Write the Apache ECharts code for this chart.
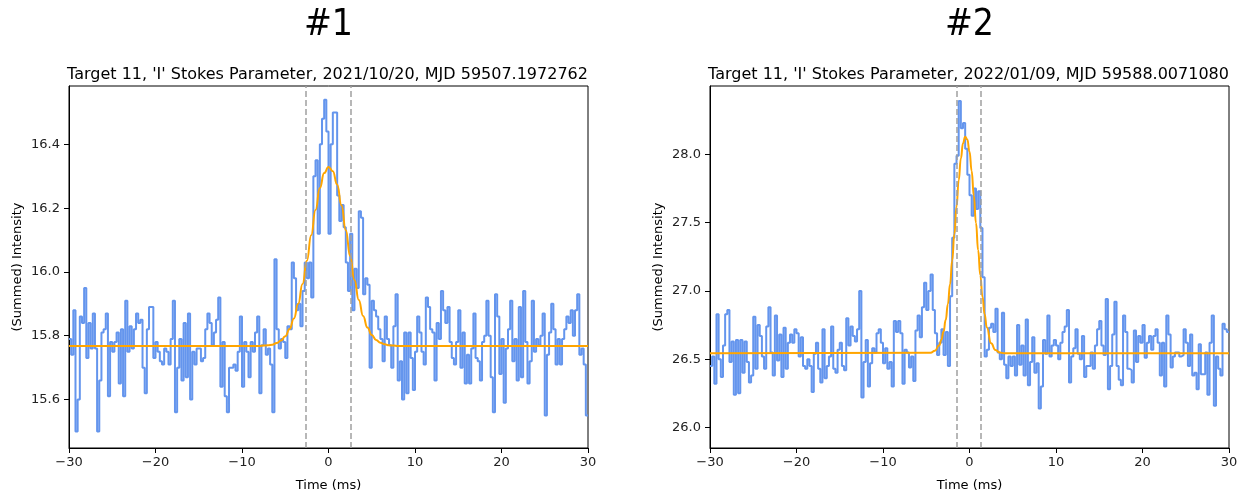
<!DOCTYPE html>
<html>
<head>
<meta charset="utf-8">
<script src="https://cdn.jsdelivr.net/npm/echarts@6/dist/echarts.min.js"></script>
<style>
  html, body { margin: 0; padding: 0; background: #fff; }
  #main { width: 1245px; height: 497px; }
</style>
</head>
<body>
<div id="main"></div>
<script>
var chart = echarts.init(document.getElementById('main'));

// time bins (ms)
var T0 = -30, BIN = 0.25, T_END = 30;

// panel #1, summed intensity per bin
var p1Intensity = [
  15.79,15.74,15.88,15.50,15.60,15.86,15.84,15.95,15.73,15.84,
  15.76,15.87,15.76,15.50,15.66,15.81,15.82,15.87,15.61,15.78,
  15.75,15.78,15.81,15.65,15.82,15.61,15.91,15.75,15.83,15.76,
  15.82,15.87,15.84,15.85,15.70,15.62,15.82,15.89,15.89,15.73,
  15.78,15.75,15.72,15.71,15.76,15.75,15.71,15.79,15.91,15.56,
  15.70,15.79,15.66,15.84,15.67,15.87,15.60,15.75,15.71,15.76,
  15.76,15.72,15.73,15.82,15.87,15.84,15.77,15.81,15.85,15.92,
  15.64,15.78,15.61,15.56,15.70,15.70,15.71,15.69,15.75,15.86,
  15.64,15.78,15.75,15.67,15.78,15.75,15.81,15.86,15.62,15.77,
  15.82,15.74,15.76,15.71,15.56,16.04,15.82,15.76,15.79,15.78,
  15.73,15.83,15.82,16.03,15.98,15.88,15.90,15.83,15.94,16.03,
  15.98,16.03,15.92,16.30,16.35,16.12,16.40,16.48,16.54,16.44,
  16.12,16.40,16.50,16.50,16.24,16.16,16.21,16.14,16.03,15.94,
  16.12,15.88,16.01,15.95,16.19,16.17,15.93,15.98,15.96,15.70,
  15.91,15.88,15.86,15.82,15.79,15.72,15.86,15.79,15.77,15.70,
  15.83,15.93,15.66,15.72,15.60,15.81,15.62,15.81,15.73,15.63,
  15.75,15.86,15.81,15.75,15.71,15.92,15.89,15.82,15.81,15.66,
  15.84,15.79,15.94,15.88,15.84,15.89,15.78,15.73,15.71,15.78,
  15.88,15.70,15.81,15.65,15.74,15.65,15.76,15.87,15.73,15.72,
  15.66,15.78,15.80,15.91,15.80,15.67,15.56,15.93,15.86,15.68,
  15.79,15.59,15.76,15.82,15.91,15.72,15.79,15.66,15.89,15.67,
  15.94,15.78,15.65,15.72,15.91,15.75,15.79,15.77,15.80,15.87,
  15.55,15.74,15.81,15.90,15.82,15.71,15.79,15.71,15.79,15.82,
  15.86,15.84,15.88,15.80,15.88,15.93,15.74,15.76,15.71,15.55
];

// panel #2, summed intensity per bin
var p2Intensity = [
  26.45,26.52,26.32,26.83,26.50,26.37,26.60,26.83,26.86,26.48,
  26.63,26.24,26.64,26.25,26.64,26.40,26.63,26.48,26.33,26.38,
  26.81,26.43,26.75,26.67,26.52,26.43,26.74,26.88,26.55,26.38,
  26.82,26.49,26.68,26.37,26.73,26.43,26.62,26.68,26.62,26.72,
  26.69,26.52,26.66,26.45,26.43,26.50,26.45,26.26,26.54,26.62,
  26.43,26.33,26.72,26.36,26.45,26.52,26.74,26.43,26.40,26.57,
  26.62,26.45,26.42,26.80,26.60,26.74,26.67,26.63,26.72,27.00,
  26.22,26.48,26.64,26.30,26.47,26.58,26.55,26.69,26.72,26.62,
  26.47,26.58,26.43,26.48,26.30,26.78,26.70,26.78,26.69,26.32,
  26.57,26.55,26.44,26.52,26.34,26.71,26.82,26.66,26.88,27.06,
  26.86,27.00,27.12,26.86,26.69,26.53,26.62,26.72,26.53,26.70,
  26.45,26.96,27.39,27.93,27.99,28.39,28.19,28.23,28.04,27.85,
  27.70,27.55,27.75,27.60,27.73,27.46,27.10,26.52,26.57,26.73,
  26.76,26.70,26.87,26.55,26.50,26.84,26.46,26.36,26.52,26.45,
  26.52,26.38,26.75,26.46,26.60,26.38,26.79,26.31,26.48,26.66,
  26.40,26.47,26.14,26.30,26.64,26.54,26.82,26.52,26.60,26.64,
  26.60,26.50,26.62,26.70,26.74,26.86,26.33,26.52,26.58,26.72,
  26.54,26.50,26.67,26.37,26.45,26.45,26.55,26.43,26.60,26.72,
  26.78,26.60,26.53,26.94,26.28,26.45,26.68,26.92,26.45,26.35,
  26.31,26.82,26.70,26.43,26.42,26.33,26.71,26.48,26.67,26.62,
  26.75,26.51,26.62,26.67,26.57,26.67,26.72,26.62,26.38,26.62,
  26.30,26.82,26.68,26.44,26.52,26.55,26.55,26.52,26.53,26.72,
  26.62,26.45,26.68,26.38,26.40,26.28,26.61,26.39,26.39,26.55,
  26.24,26.62,26.82,26.16,26.52,26.43,26.38,26.76,26.72,26.70
];

// gaussian fit curves
var p1FitT = [-30,-8,-7.5,-7,-6.5,-6,-5.5,-5,-4.5,-4,-3.5,-3,-2.5,-2,-1.5,-1,-0.5,0,
              0.5,1,1.5,2,2.5,3,3.5,4,4.5,5,5.5,6,6.5,7,7.5,8,30];
var p1FitV = [15.768,15.768,15.769,15.770,15.772,15.777,15.785,15.798,15.821,15.854,15.900,15.962,
              16.035,16.115,16.194,16.263,16.310,16.329,16.316,16.274,16.209,16.131,16.050,15.975,
              15.912,15.862,15.826,15.802,15.787,15.778,15.773,15.770,15.769,15.768,15.768];

var p2FitT = [-30,-4.5,-4,-3.5,-3.25,-3,-2.75,-2.5,-2.25,-2,-1.75,-1.5,-1.25,-1,-0.75,-0.5,-0.25,0,
              0.25,0.5,0.75,1,1.25,1.5,1.75,2,2.5,3,3.5,4,30];
var p2FitV = [26.543,26.548,26.562,26.602,26.643,26.702,26.788,26.902,27.048,27.222,27.416,27.617,
              27.809,27.970,28.081,28.128,28.108,28.020,27.878,27.697,27.497,27.298,27.115,26.957,
              26.830,26.733,26.616,26.567,26.549,26.544,26.543];

// dashed markers (ms)
var p1Marks = [-2.6, 2.6];
var p2Marks = [-1.45, 1.3];

// axis ticks
var xTicks = [-30, -20, -10, 0, 10, 20, 30];
var p1YTicks = [15.6, 15.8, 16.0, 16.2, 16.4];
var p2YTicks = [26.0, 26.5, 27.0, 27.5, 28.0];

var titles = ['#1', '#2'];
var subtitles = [
  "Target 11, 'I' Stokes Parameter, 2021/10/20, MJD 59507.1972762",
  "Target 11, 'I' Stokes Parameter, 2022/01/09, MJD 59588.0071080"
];

function toSteps(vals) {
  var out = [];
  for (var i = 0; i < vals.length; i++) {
    out.push([T0 + i * BIN, vals[i]]);
  }
  out.push([T_END, vals[vals.length - 1]]);
  return out;
}
function zip(a, b) {
  return a.map(function (t, i) { return [t, b[i]]; });
}

var FONT = "'DejaVu Sans', sans-serif";
var gridW = 519, gridH = 367, gridTop = 86;
var lefts = [69, 710];

function xAxisFor(idx) {
  return {
    type: 'value', gridIndex: idx, min: -30, max: 30, interval: 10,
    name: 'Time (ms)', nameLocation: 'middle', nameGap: 31,
    nameTextStyle: { color: '#000', fontSize: 13, fontFamily: FONT },
    axisLine: { onZero: false, lineStyle: { color: '#000', width: 1 } },
    axisTick: { length: 5, customValues: xTicks, lineStyle: { color: '#000' } },
    axisLabel: {
      color: '#222', fontSize: 13, fontFamily: FONT, margin: 8, customValues: xTicks,
      formatter: function (v) { return v < 0 ? '\u2212' + (-v) : String(v); }
    },
    splitLine: { show: false }
  };
}
function yAxisFor(idx, min, max, ticks, gap) {
  return {
    type: 'value', gridIndex: idx, min: min, max: max,
    name: '(Summed) Intensity', nameLocation: 'middle', nameGap: gap,
    nameTextStyle: { color: '#000', fontSize: 13, fontFamily: FONT },
    axisLine: { show: true, onZero: false, lineStyle: { color: '#000', width: 1 } },
    axisTick: { show: true, length: 5, customValues: ticks, lineStyle: { color: '#000' } },
    axisLabel: {
      color: '#222', fontSize: 13, fontFamily: FONT, margin: 9, customValues: ticks,
      formatter: function (v) { return v.toFixed(1); }
    },
    splitLine: { show: false }
  };
}
function marks(xs) {
  return {
    symbol: 'none', silent: true, label: { show: false },
    lineStyle: { color: '#a0a0a0', width: 1.5, type: [6, 3] },
    data: xs.map(function (x) { return { xAxis: x }; })
  };
}

var titleList = [];
for (var k = 0; k < 2; k++) {
  var cx = lefts[k] + gridW / 2;
  titleList.push({
    text: titles[k], left: cx - 5, top: 2, textAlign: 'center',
    textStyle: { fontFamily: "'Liberation Sans Narrow', 'DejaVu Sans Condensed', sans-serif", fontSize: 37, fontWeight: 'normal', color: '#000' }
  });
  titleList.push({
    text: subtitles[k], left: cx - 6, top: 62, textAlign: 'center',
    textStyle: { fontFamily: FONT, fontSize: 16, fontWeight: 'normal', color: '#000' }
  });
}

var option = {
  animation: false,
  backgroundColor: '#fff',
  title: titleList,
  grid: [
    { left: lefts[0], top: gridTop, width: gridW, height: gridH, show: true, borderColor: '#000', borderWidth: 1 },
    { left: lefts[1], top: gridTop, width: gridW, height: gridH, show: true, borderColor: '#000', borderWidth: 1 }
  ],
  xAxis: [xAxisFor(0), xAxisFor(1)],
  yAxis: [
    yAxisFor(0, 15.448, 16.583, p1YTicks, 45),
    yAxisFor(1, 25.85, 28.5, p2YTicks, 45)
  ],
  series: [
    {
      name: 'data1', type: 'line', xAxisIndex: 0, yAxisIndex: 0, step: 'end',
      showSymbol: false, data: toSteps(p1Intensity),
      lineStyle: { color: '#6495ED', width: 2 }, z: 3
    },
    {
      name: 'fit1', type: 'line', xAxisIndex: 0, yAxisIndex: 0,
      smooth: true, smoothMonotone: 'x', showSymbol: false, data: zip(p1FitT, p1FitV),
      lineStyle: { color: '#FFA500', width: 2 }, z: 4,
      markLine: marks(p1Marks)
    },
    {
      name: 'data2', type: 'line', xAxisIndex: 1, yAxisIndex: 1, step: 'end',
      showSymbol: false, data: toSteps(p2Intensity),
      lineStyle: { color: '#6495ED', width: 2 }, z: 3
    },
    {
      name: 'fit2', type: 'line', xAxisIndex: 1, yAxisIndex: 1,
      smooth: true, smoothMonotone: 'x', showSymbol: false, data: zip(p2FitT, p2FitV),
      lineStyle: { color: '#FFA500', width: 2 }, z: 4,
      markLine: marks(p2Marks)
    }
  ]
};

chart.setOption(option);
</script>
</body>
</html>
